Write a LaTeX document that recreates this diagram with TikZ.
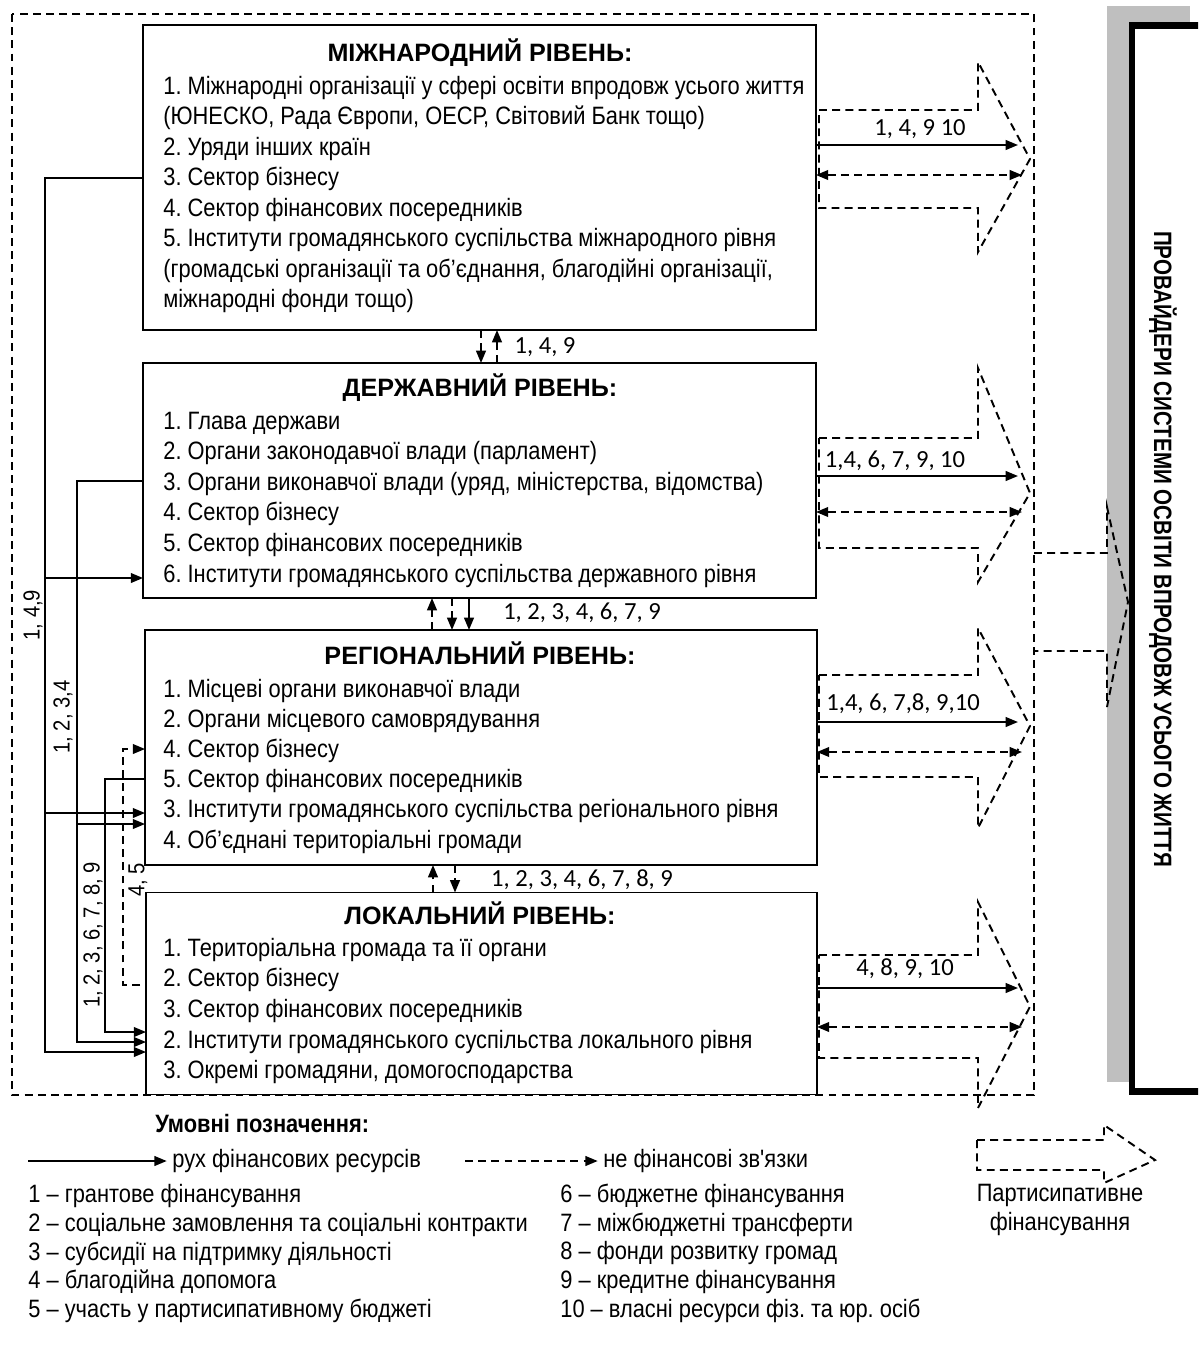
\documentclass[tikz,border=0pt]{standalone}
\usepackage{fontspec}
\setmainfont{Liberation Sans}
\newfontfamily\narrowsf[FakeStretch=0.87]{Liberation Sans}
\newfontfamily\condsf[FakeStretch=0.82]{Liberation Sans}
\newfontfamily\calib{Carlito}
\usetikzlibrary{arrows.meta, positioning}
\frenchspacing

\tikzset{
  box/.style={draw, line width=1.1pt, inner sep=0pt, outer sep=0pt},
  ttl/.style={font=\fontsize{14.3}{17}\selectfont\bfseries, anchor=base, inner sep=0pt},
  txt/.style={font=\narrowsf\fontsize{14.3}{17}\selectfont, anchor=base west, inner sep=0pt},
  lgd/.style={font=\narrowsf\fontsize{14.3}{17}\selectfont, anchor=west, inner sep=0pt},
  rot/.style={font=\narrowsf\fontsize{13.2}{16}\selectfont, inner sep=0pt, rotate=90},
  num/.style={font=\calib\fontsize{14}{17}\selectfont, inner sep=0pt},
  flow/.style={line width=1.1pt, -{Triangle[length=7pt,width=5.5pt]}},
  link/.style={line width=1.1pt, dash pattern=on 4.5pt off 3pt, -{Triangle[length=7pt,width=5.5pt]}},
  link2/.style={line width=1.1pt, dash pattern=on 4.5pt off 3pt, {Triangle[length=7pt,width=5.5pt]}-{Triangle[length=7pt,width=5.5pt]}},
  dsh/.style={line width=1.1pt, dash pattern=on 4.5pt off 3pt},
}

\begin{document}
\begin{tikzpicture}[x=0.02cm, y=-0.02cm]
\useasboundingbox (0,0) rectangle (1198,1356);
\clip (0,0) rectangle (1198,1356);

% outer frame
\draw[dsh] (12,14) rectangle (1034,1095);

% level boxes
\node[box, minimum width=13.46cm, minimum height=6.1cm] (intl) at (479.5,177.5) {};
\node[box, minimum width=13.46cm, minimum height=4.7cm] (state) at (479.5,480.5) {};
\node[box, minimum width=13.44cm, minimum height=4.7cm] (reg) at (481,747.5) {};
\node[box, minimum width=13.42cm, minimum height=4.04cm] (loc) at (481.5,993.5) {};

\node[ttl] (intl-t) at (480,61) {МІЖНАРОДНИЙ РІВЕНЬ:};
\foreach \t [count=\k from 0] in {{1. Міжнародні організації у сфері освіти впродовж усього життя},
  {(ЮНЕСКО, Рада Європи, ОЕСР, Світовий Банк тощо)}, {2. Уряди інших країн},
  {3. Сектор бізнесу}, {4. Сектор фінансових посередників},
  {5. Інститути громадянського суспільства міжнародного рівня},
  {(громадські організації та об’єднання, благодійні організації,},
  {міжнародні фонди тощо)}}
  \node[txt] (intl-\k) at (163,{94+30.5*\k}) {\t};

\node[ttl] (state-t) at (480,396) {ДЕРЖАВНИЙ РІВЕНЬ:};
\foreach \t [count=\k from 0] in {{1. Глава держави},
  {2. Органи законодавчої влади (парламент)},
  {3. Органи виконавчої влади (уряд, міністерства, відомства)},
  {4. Сектор бізнесу}, {5. Сектор фінансових посередників},
  {6. Інститути громадянського суспільства державного рівня}}
  \node[txt] (state-\k) at (163,{429+30.6*\k}) {\t};

\node[ttl] (reg-t) at (480,664) {РЕГІОНАЛЬНИЙ РІВЕНЬ:};
\foreach \t [count=\k from 0] in {{1. Місцеві органи виконавчої влади},
  {2. Органи місцевого самоврядування}, {4. Сектор бізнесу},
  {5. Сектор фінансових посередників},
  {3. Інститути громадянського суспільства регіонального рівня},
  {4. Об’єднані територіальні громади}}
  \node[txt] (reg-\k) at (163,{697+30.2*\k}) {\t};

\node[ttl] (loc-t) at (480,924) {ЛОКАЛЬНИЙ РІВЕНЬ:};
\foreach \t [count=\k from 0] in {{1. Територіальна громада та її органи},
  {2. Сектор бізнесу}, {3. Сектор фінансових посередників},
  {2. Інститути громадянського суспільства локального рівня},
  {3. Окремі громадяни, домогосподарства}}
  \node[txt] (loc-\k) at (163,{956+30.7*\k}) {\t};

% flows on the left
\draw[flow] (intl.west |- 0,178) -| (45,1052) -- (loc.west |- 0,1052);
\draw[flow] (45,578) -- (state.west |- 0,578);
\draw[flow] (45,813) -- (reg.west |- 0,813);
\draw[flow] (state.west |- 0,481) -| (77,1042) -- (loc.west |- 0,1042);
\draw[flow] (77,824) -- (reg.west |- 0,824);
\draw[flow] (reg.west |- 0,779) -| (105,1032) -- (loc.west |- 0,1032);
\draw[link] (140,985) -| (123,749) -- (reg.west |- 0,749);
\node[rot] (f149) at (33,615) {1, 4,9};
\node[rot] (f1234) at (63,717) {1, 2, 3,4};
\node[rot] (f123) at (93,935) {1, 2, 3, 6, 7, 8, 9};
\node[rot] (f45) at (138,880) {4, 5};

% between levels
\draw[link] (intl.south -| 481,0) -- (state.north -| 481,0);
\draw[link] (state.north -| 497,0) -- (intl.south -| 497,0);
\node[num] (n149) at (545,347) {1, 4, 9};
\draw[link] (reg.north -| 432,0) -- (state.south -| 432,0);
\draw[link] (state.south -| 452,0) -- (reg.north -| 452,0);
\draw[flow] (state.south -| 469,0) -- (reg.north -| 469,0);
\node[num] (n1234) at (582,613) {1, 2, 3, 4, 6, 7, 9};
\draw[link] (loc.north -| 433,0) -- (reg.south -| 433,0);
\draw[link] (reg.south -| 455,0) -- (loc.north -| 455,0);
\node[num] (n12345) at (582,880) {1, 2, 3, 4, 6, 7, 8, 9};

% participative arrows to the right
\foreach \st/\sb/\ht/\hb in {110/208/62/252, 438/548/368/582, 675/777/628/828, 955/1058/902/1108}
  \draw[dsh] (819,\st) -- (978,\st) -- (978,\ht) -- (1030,{(\st+\sb)/2}) -- (978,\hb) -- (978,\sb) -- (819,\sb) -- cycle;

\foreach \b/\ys/\yd/\lab/\lx/\ly in {intl/145/175/{1, 4, 9 10}/920/129,
    state/476/512/{1,4, 6, 7, 9, 10}/895/461,
    reg/722/752/{1,4, 6, 7,8, 9,10}/903/704,
    loc/988/1027/{4, 8, 9, 10}/905/969} {
  \coordinate (\b-f) at (1018,\ys);
  \coordinate (\b-d) at (1022,\yd);
  \draw[flow] (\b.east |- \b-f) -- (\b-f);
  \draw[link2] (\b.east |- \b-d) -- (\b-d);
  \node[num] (\b-l) at (\lx,\ly) {\lab};
}

% providers
\fill[gray!50] (1107,6) rectangle (1190,1082);
\draw[dsh] (1034,553) -- (1107,553) -- (1107,507) -- (1128,602) -- (1107,707) -- (1107,651) -- (1034,651);
\node[draw, line width=3.9pt, fill=white, minimum width=1.96cm, minimum height=21.34cm, inner sep=0pt] (prov) at (1181,558.5) {};
\node[font=\condsf\fontsize{14.3}{17}\selectfont\bfseries, rotate=-90] (prov-t) at (1163,549)
  {ПРОВАЙДЕРИ СИСТЕМИ ОСВІТИ ВПРОДОВЖ УСЬОГО ЖИТТЯ};

% legend
\node[lgd, font=\narrowsf\fontsize{14.3}{17}\selectfont\bfseries] (leg) at (155,1124) {Умовні позначення:};
\coordinate (leg-a) at (28,1161);
\node[lgd] (leg1) at (172,1161) {рух фінансових ресурсів};
\draw[flow, shorten >=3pt] (leg-a) -- (leg1.west);
\coordinate (leg-b) at (465,1161);
\node[lgd] (leg2) at (603,1161) {не фінансові зв'язки};
\draw[link, shorten >=3pt] (leg-b) -- (leg2.west);

\foreach \t [count=\k from 0] in {{1 – грантове фінансування},
  {2 – соціальне замовлення та соціальні контракти},
  {3 – субсидії на підтримку діяльності}, {4 – благодійна допомога},
  {5 – участь у партисипативному бюджеті}}
  \node[lgd] (lg-\k) at (28,{1196+28.7*\k}) {\t};
\foreach \t [count=\k from 0] in {{6 – бюджетне фінансування},
  {7 – міжбюджетні трансферти}, {8 – фонди розвитку громад},
  {9 – кредитне фінансування}, {10 – власні ресурси фіз. та юр. осіб}}
  \node[lgd] (rg-\k) at (560,{1196+28.7*\k}) {\t};

\draw[dsh] (977,1140) -- (1104,1140) -- (1104,1125) -- (1155,1160) -- (1104,1183) -- (1104,1170) -- (977,1170) -- cycle;
\node[font=\narrowsf\fontsize{14.3}{16.4}\selectfont, align=center, inner sep=0pt] (part) at (1060,1210)
  {Партисипативне\\фінансування};
\end{tikzpicture}
\end{document}
